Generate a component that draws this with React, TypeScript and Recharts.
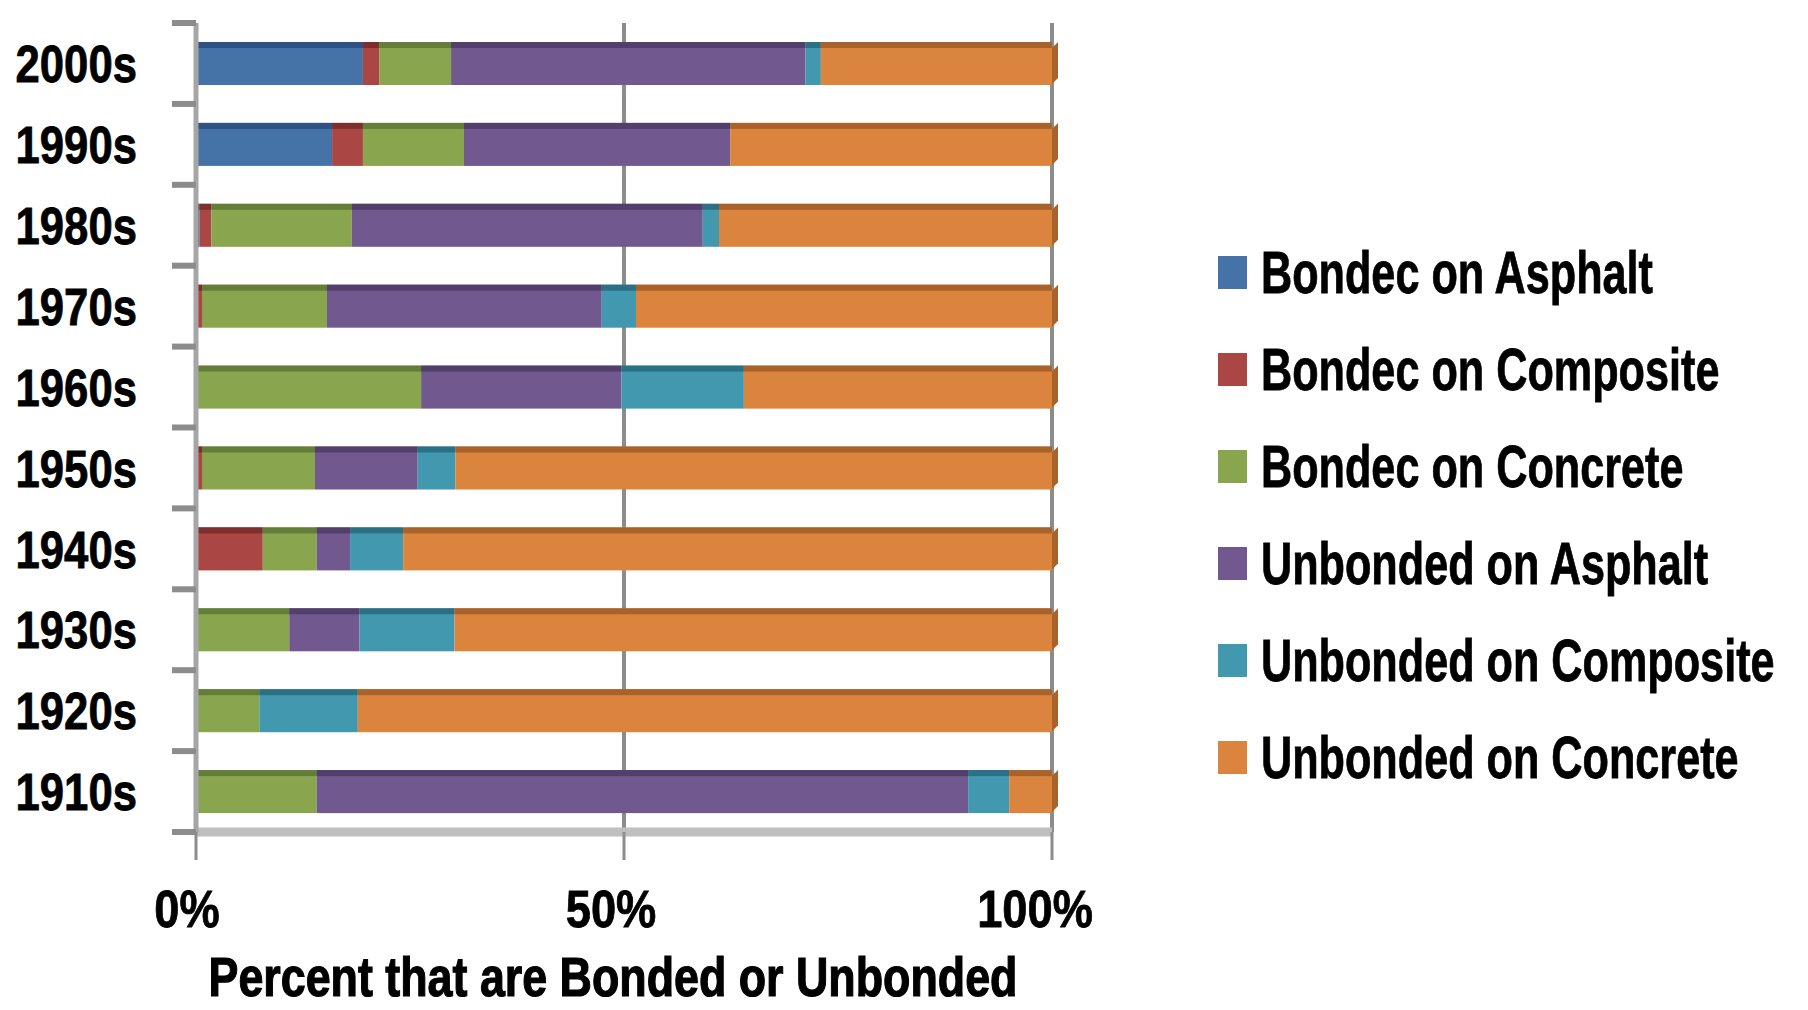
import { BarChart, Bar, XAxis, YAxis, CartesianGrid, Legend } from 'recharts';

// decades, top to bottom as in the chart
const decades = ['2000s', '1990s', '1980s', '1970s', '1960s', '1950s', '1940s', '1930s', '1920s', '1910s'];

// share of each type per decade (%)
const bondedAsphalt = [19.5, 15.9, 0.4, 0, 0, 0, 0, 0, 0, 0];
const bondedComposite = [1.9, 3.6, 1.4, 0.7, 0, 0.7, 7.8, 0, 0, 0];
const bondedConcrete = [8.4, 11.8, 16.4, 14.6, 26.3, 13.2, 6.3, 10.9, 7.4, 14.1];
const unbondedAsphalt = [41.4, 31.1, 41.0, 32.1, 23.4, 12.0, 3.9, 8.2, 0, 76.1];
const unbondedComposite = [1.8, 0, 1.9, 4.0, 14.3, 4.4, 6.2, 11.1, 11.5, 4.8];
const unbondedConcrete = [27.0, 37.6, 38.9, 48.6, 36.0, 69.7, 75.8, 69.8, 81.1, 5.0];

const xTicks = [0, 0.5, 1];

// the original uses a narrow bold face; squeeze Liberation Sans Bold horizontally instead
const FONT = "'Liberation Sans', Arial, sans-serif";

const SERIES = [
  { key: 'bondedAsphalt', name: 'Bondec on Asphalt', color: '#4572A7', dark: '#2f5284', values: bondedAsphalt },
  { key: 'bondedComposite', name: 'Bondec on Composite', color: '#AA4643', dark: '#7e2f2d', values: bondedComposite },
  { key: 'bondedConcrete', name: 'Bondec on Concrete', color: '#89A54E', dark: '#647d38', values: bondedConcrete },
  { key: 'unbondedAsphalt', name: 'Unbonded on Asphalt', color: '#71588F', dark: '#523f6b', values: unbondedAsphalt },
  { key: 'unbondedComposite', name: 'Unbonded on Composite', color: '#4198AF', dark: '#2c7085', values: unbondedComposite },
  { key: 'unbondedConcrete', name: 'Unbonded on Concrete', color: '#DB843D', dark: '#a9622a', values: unbondedConcrete },
];

const data = decades.map((decade, i) => {
  const row: any = { decade };
  SERIES.forEach((s) => {
    row[s.key] = s.values[i];
  });
  return row;
});

const WIDTH = 1800;
const HEIGHT = 1002;
const MARGIN = { top: 15, right: 756, bottom: 0, left: 0 };
const X_AXIS_HEIGHT = 178;
const BAND = (HEIGHT - MARGIN.top - MARGIN.bottom - X_AXIS_HEIGHT) / decades.length;

// flat bar segment with a darker top edge, like the old 3-D look
function makeShape(color: string, dark: string, side: boolean) {
  return (props: any) => {
    const { x, y, width, height } = props;
    if (!width || width <= 0) return null;
    return (
      <g>
        <rect x={x} y={y} width={width} height={height} fill={color} />
        <rect x={x} y={y} width={width} height={6} fill={dark} />
        {side && (
          <polygon
            points={`${x + width},${y + 6} ${x + width + 6},${y} ${x + width + 6},${y + height - 7} ${x + width},${y + height - 1}`}
            fill={dark}
          />
        )}
      </g>
    );
  };
}

function YearTick({ x, y, payload }: any) {
  const half = BAND / 2;
  const last = payload.index === decades.length - 1;
  return (
    <g>
      <text
        transform={`translate(${x - 59},${y}) scale(0.84,1)`}
        dy="0.36em"
        textAnchor="end"
        fontFamily={FONT}
        fontWeight={700}
        fontSize={52}
        fill="#000"
        stroke="#000"
        strokeWidth={0.8}
      >
        {payload.value}
      </text>
      <line x1={x - 24} x2={x} y1={y - half} y2={y - half} stroke="#8c8c8c" strokeWidth={6} />
      {last && <line x1={x - 24} x2={x} y1={y + half} y2={y + half} stroke="#8c8c8c" strokeWidth={6} />}
    </g>
  );
}

function PercentTick({ x, y, payload }: any) {
  return (
    <text
      transform={`translate(${x - 9 - payload.value * 8},${y}) scale(0.87,1)`}
      dy="0.72em"
      textAnchor="middle"
      fontFamily={FONT}
      fontWeight={700}
      fontSize={52}
      fill="#000"
      stroke="#000"
      strokeWidth={0.8}
    >
      {`${Math.round(payload.value * 100)}%`}
    </text>
  );
}

function AxisTitle({ viewBox }: any) {
  const { x, y, width, height } = viewBox;
  return (
    <text
      transform={`translate(${x + width / 2 - 11},${y + height - 14}) scale(0.8,1)`}
      textAnchor="middle"
      fontFamily={FONT}
      fontWeight={700}
      fontSize={56}
      fill="#000"
      stroke="#000"
      strokeWidth={1.2}
    >
      Percent that are Bonded or Unbonded
    </text>
  );
}

function renderLegend(props: any) {
  const { payload } = props;
  return (
    <div style={{ fontFamily: FONT, fontWeight: 700, fontSize: 60, color: '#000' }}>
      {payload.map((entry: any) => (
        <div key={entry.value} style={{ display: 'flex', alignItems: 'center', height: 97, whiteSpace: 'nowrap' }}>
          <span
            style={{ display: 'inline-block', flexShrink: 0, width: 29, height: 33, background: entry.color, marginRight: 14 }}
          />
          <span
            style={{
              display: 'inline-block',
              transform: 'scaleX(0.72)',
              transformOrigin: 'left center',
              WebkitTextStroke: '0.8px #000',
            }}
          >
            {entry.value}
          </span>
        </div>
      ))}
    </div>
  );
}

export default function App() {
  return (
    <BarChart
      width={WIDTH}
      height={HEIGHT}
      data={data}
      layout="vertical"
      stackOffset="expand"
      margin={MARGIN}
    >
      <CartesianGrid horizontal={false} stroke="#8c8c8c" strokeWidth={4} />
      <XAxis
        type="number"
        domain={[0, 1]}
        ticks={xTicks}
        height={X_AXIS_HEIGHT}
        axisLine={{ stroke: '#bfbfbf', strokeWidth: 9 }}
        tickLine={{ stroke: '#8c8c8c', strokeWidth: 3 }}
        tickSize={28}
        tickMargin={30}
        tick={<PercentTick />}
        label={<AxisTitle />}
      />
      <YAxis
        type="category"
        dataKey="decade"
        width={188}
        axisLine={{ stroke: '#a6a6a6', strokeWidth: 5 }}
        tickLine={false}
        tickSize={0}
        tickMargin={0}
        tick={<YearTick />}
        interval={0}
      />
      <Legend
        layout="vertical"
        align="center"
        verticalAlign="middle"
        content={renderLegend}
        wrapperStyle={{ left: 1210, top: 216, width: 590 }}
      />
      {SERIES.map((s, i) => (
        <Bar
          key={s.key}
          dataKey={s.key}
          name={s.name}
          stackId="a"
          fill={s.color}
          barSize={43}
          isAnimationActive={false}
          shape={makeShape(s.color, s.dark, i === SERIES.length - 1)}
        />
      ))}
    </BarChart>
  );
}
